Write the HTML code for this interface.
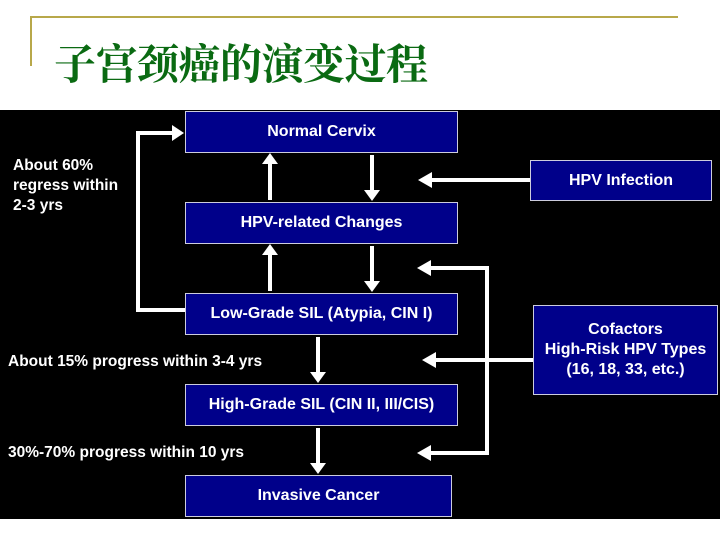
<!DOCTYPE html>
<html><head><meta charset="utf-8"><style>
body{margin:0;width:720px;height:540px;background:#fff;position:relative;overflow:hidden;font-family:"Liberation Sans",Arial,sans-serif}
.t{position:absolute;left:54px;top:32px;font-family:"Liberation Serif","Noto Serif CJK SC",serif;font-size:42px;color:#0a6a12;font-weight:bold;letter-spacing:-0.5px}
.bg{position:absolute;left:0;top:110px;width:720px;height:409px;background:#000}
.b{position:absolute;background:#00008a;border:1px solid #ccd;color:#fff;font-weight:bold;font-size:16px;display:flex;align-items:center;justify-content:center;text-align:center;box-sizing:border-box;line-height:20px}
.l{position:absolute;color:#fff;font-weight:bold;font-size:15.5px;line-height:20px}
</style></head><body>
<div style="position:absolute;left:30px;top:16px;width:648px;height:2px;background:#b8a84a"></div>
<div style="position:absolute;left:30px;top:16px;width:2px;height:50px;background:#b8a84a"></div>
<div class="t">子宫颈癌的演变过程</div>
<div class="bg"></div>
<svg style="position:absolute;left:0;top:0" width="720" height="540">
<g stroke="#fff" stroke-width="4" fill="none">
<line x1="270" y1="200" x2="270" y2="160"/><line x1="372" y1="155" x2="372" y2="194"/>
<line x1="270" y1="291" x2="270" y2="251"/><line x1="372" y1="246" x2="372" y2="285"/>
<line x1="318" y1="337" x2="318" y2="376"/><line x1="318" y1="428" x2="318" y2="467"/>
<polyline points="185,310 138,310 138,133 176,133"/>
<line x1="530" y1="180" x2="428" y2="180"/>
<polyline points="427,268 487,268 487,453 427,453"/>
<line x1="533" y1="360" x2="432" y2="360"/>
</g>
<g fill="#fff">
<polygon points="262,164 278,164 270,153"/><polygon points="364,190 380,190 372,201"/>
<polygon points="262,255 278,255 270,244"/><polygon points="364,281 380,281 372,292"/>
<polygon points="310,372 326,372 318,383"/><polygon points="310,463 326,463 318,474"/>
<polygon points="172,125 172,141 184,133"/>
<polygon points="432,172 432,188 418,180"/>
<polygon points="431,260 431,276 417,268"/>
<polygon points="431,445 431,461 417,453"/>
<polygon points="436,352 436,368 422,360"/>
</g></svg>
<div class="b" style="left:185px;top:111px;width:273px;height:42px">Normal Cervix</div>
<div class="b" style="left:185px;top:202px;width:273px;height:42px">HPV-related Changes</div>
<div class="b" style="left:185px;top:293px;width:273px;height:42px">Low-Grade SIL (Atypia, CIN I)</div>
<div class="b" style="left:185px;top:384px;width:273px;height:42px">High-Grade SIL (CIN II, III/CIS)</div>
<div class="b" style="left:185px;top:475px;width:267px;height:42px">Invasive Cancer</div>
<div class="b" style="left:530px;top:160px;width:182px;height:41px">HPV Infection</div>
<div class="b" style="left:533px;top:305px;width:185px;height:90px">Cofactors<br>High-Risk HPV Types<br>(16, 18, 33, etc.)</div>
<div class="l" style="left:13px;top:156px">About 60%<br>regress within<br>2-3 yrs</div>
<div class="l" style="left:8px;top:352px">About 15% progress within 3-4 yrs</div>
<div class="l" style="left:8px;top:443px">30%-70% progress within 10 yrs</div>
</body></html>
